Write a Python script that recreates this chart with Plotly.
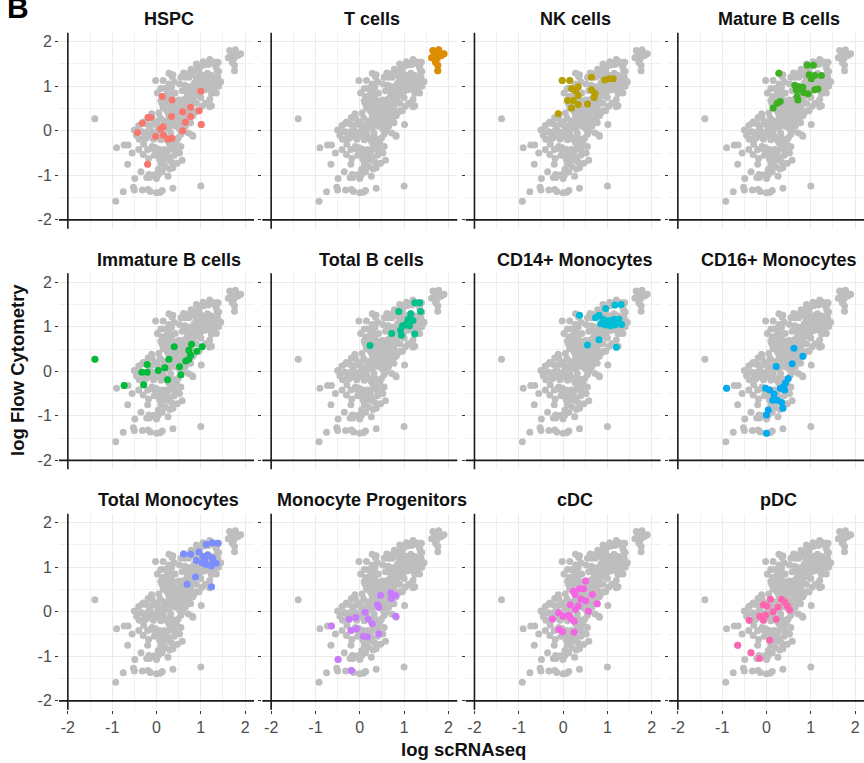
import plotly.graph_objects as go

# ---------------------------------------------------------------------------
# Data: log expression (scRNAseq) vs log abundance (flow cytometry), per cell type
# ---------------------------------------------------------------------------
cell_types = ["HSPC", "T cells", "NK cells", "Mature B cells",
              "Immature B cells", "Total B cells", "CD14+ Monocytes", "CD16+ Monocytes",
              "Total Monocytes", "Monocyte Progenitors", "cDC", "pDC"]

type_colors = ["#F8766D", "#DE8C00", "#B79F00", "#3DB022",
               "#00BA38", "#00C08B", "#00BCD6", "#00AAF0",
               "#7B8DFF", "#C77CFF", "#F564E3", "#FF64B0"]

hspc_x = [0.13, 0.35, 1.00, -0.32, -0.43, -0.19, -0.13, -0.02, 0.09, 0.15, 0.16,
          0.26, 0.35, 0.34, 0.59, 0.59, 0.65, 0.77, 0.77, 0.96, 1.01, -0.20]
hspc_y = [0.77, 0.69, 0.89, 0.17, -0.04, 0.30, 0.30, -0.13, 0.04, 0.09, -0.10,
          -0.19, -0.17, 0.32, 0.43, 0.00, 0.19, 0.53, 0.32, 0.45, 0.14, -0.75]

tcell_x = [1.65, 1.78, 1.90, 1.62, 1.75, 1.84, 1.71, 1.76, 1.76, 1.69, 1.80]
tcell_y = [1.80, 1.82, 1.73, 1.64, 1.63, 1.69, 1.54, 1.47, 1.35, 1.73, 1.73]

nk_x = [-0.02, 0.15, 0.64, 0.94, 1.03, 1.13, 0.19, 0.34, 0.64, 0.72, 0.70,
        0.34, 0.10, 0.23, 0.34, 0.19, 0.55, -0.11, 0.28]
nk_y = [1.13, 1.13, 1.20, 1.14, 1.17, 1.17, 0.95, 0.99, 0.92, 0.84, 0.75,
        0.79, 0.68, 0.68, 0.59, 0.51, 0.60, 0.38, 0.90]

matb_x = [0.28, 0.92, 1.06, 0.96, 1.09, 1.24, 0.64, 0.73, 0.82, 0.67, 0.76,
          0.84, 0.94, 0.69, 0.71, 1.09, 1.16, 0.31, 0.24, 0.15, 1.01]
matb_y = [1.29, 1.47, 1.47, 1.26, 1.24, 1.24, 1.02, 0.99, 0.98, 0.92, 0.92,
          0.86, 0.83, 0.77, 0.69, 0.92, 0.94, 0.66, 0.62, 0.51, 1.17]

immb_x = [-1.39, -0.73, -0.29, -0.33, -0.21, -0.21, 0.04, 0.19, 0.28, 0.25,
          0.40, 0.52, 0.55, 0.66, 0.73, 0.77, 0.73, 0.79, 0.91, 1.03]
immb_y = [0.27, -0.32, -0.30, -0.02, -0.02, 0.15, 0.02, 0.08, 0.27, -0.19,
          0.55, 0.10, -0.08, 0.23, 0.27, 0.36, 0.47, 0.61, 0.45, 0.55]

totb_x = [0.23, 0.88, 1.24, 1.35, 1.15, 1.37, 1.09, 1.20, 0.96, 1.03, 1.12,
          0.92, 0.72, 0.94, 1.24, 1.07]
totb_y = [0.58, 1.34, 1.54, 1.54, 1.29, 1.34, 1.17, 1.14, 1.02, 1.04, 1.02,
          0.92, 0.85, 0.81, 0.84, 1.09]

cd14_x = [0.37, 0.96, 1.17, 1.31, 0.73, 0.81, 0.90, 0.99, 1.07, 1.15, 1.26,
          1.32, 0.85, 0.96, 1.07, 1.17, 0.81, 0.55, 1.20, 1.03]
cd14_y = [1.26, 1.41, 1.49, 1.50, 1.20, 1.26, 1.17, 1.13, 1.14, 1.17, 1.17,
          1.05, 1.07, 1.04, 1.02, 1.04, 0.71, 0.59, 0.54, 1.09]

cd16_x = [0.62, 0.82, 0.22, 0.58, -0.90, 0.49, 0.43, 0.39, 0.41, 0.31, -0.02,
          0.07, 0.17, 0.14, 0.24, 0.34, 0.37, 0.04, 0.00, 0.00]
cd16_y = [0.52, 0.34, 0.11, 0.17, -0.38, -0.16, -0.26, -0.34, -0.42, -0.38, -0.38,
          -0.42, -0.51, -0.65, -0.65, -0.70, -0.83, -0.87, -0.98, -1.39]

totmono_x = [0.61, 0.77, 0.96, 1.12, 1.26, 1.39, 0.90, 1.05, 1.16, 1.27, 1.03,
             1.12, 1.24, 1.35, 1.27, 0.88, 0.69, 1.24, 1.09]
totmono_y = [1.30, 1.29, 1.34, 1.51, 1.55, 1.54, 1.15, 1.24, 1.27, 1.21, 1.10,
             1.06, 1.03, 1.09, 1.14, 0.78, 0.62, 0.56, 1.18]

monoprog_x = [0.47, 0.70, 0.81, 0.71, 0.40, 0.43, 0.12, 0.81, -0.09, -0.24, 0.19,
              0.28, -0.64, -0.20, -0.07, 0.08, 0.17, 0.43, -0.49, -0.19]
monoprog_y = [0.37, 0.43, 0.37, 0.30, 0.16, 0.10, -0.01, -0.10, -0.13, -0.17, -0.16,
              -0.27, -0.32, -0.42, -0.38, -0.55, -0.56, -0.49, -1.07, -1.32]

cdc_x = [0.51, 0.23, 0.27, 0.37, 0.46, 0.66, 0.40, 0.51, 0.16, 0.77, 0.34,
         0.28, 0.57, -0.10, 0.00, 0.13, 0.17, 0.25, -0.24, -0.09, -0.01, 0.25]
cdc_y = [0.69, 0.46, 0.39, 0.52, 0.52, 0.39, 0.29, 0.25, 0.16, 0.18, 0.13,
         0.05, 0.01, -0.02, -0.10, -0.08, -0.15, -0.21, -0.16, -0.40, -0.45, -0.46]

pdc_x = [0.09, -0.07, 0.01, 0.34, 0.41, 0.26, 0.47, 0.52, 0.15, -0.02, -0.15,
         -0.07, -0.39, 0.22, 0.07, -0.65, -0.35, -0.16, -0.11]
pdc_y = [0.28, 0.16, 0.13, 0.28, 0.22, 0.11, 0.13, 0.04, 0.00, -0.07, -0.10,
         -0.19, -0.19, -0.17, -0.64, -0.75, -0.92, -1.05, -0.13]

# populations that are measured but not shown as their own panel
other_x = [-0.92, -0.75, -0.52, -0.50, -0.32, -0.14, 0.13, 0.08, 0.37, 1.00,
           -0.22, -0.17, -0.07, 0.00, 0.04, 0.13, 0.26, 0.30, 0.47, 0.58, 0.20, 0.10,
           -0.30, -0.18, -0.05, 0.05, 0.18, 0.28, 0.40, 0.52, 0.55, 0.45, 0.35, -0.10,
           -0.40, -0.55,
           -0.50, -0.45, -0.40, -0.28, -0.30, -0.15, -0.10, 0.00, 0.05, 0.10, 0.20,
           0.30, 0.32, 0.40, 0.48, 0.55, 0.62, 0.65, 0.72, 0.82, 0.70, 0.80, 0.85,
           0.02, 0.10, 0.12, 0.22, 0.28, 0.35, 0.42, 0.48, 0.52, 0.55, 0.58, 0.62,
           0.66, 0.40, 0.30, 0.65,
           0.78, 0.90, 1.05, 1.20, 1.35, 1.40, 1.38, 1.30, 1.35, 1.40, 1.20, 1.10,
           1.00, 0.90, 1.45]
other_y = [-1.58, -1.37, -1.27, -1.33, -1.33, -1.36, -1.34, -1.38, -1.29, -1.24,
           -1.05, -0.98, -0.99, -1.07, -0.98, -0.92, -1.02, -0.86, -0.73, -0.66, -0.80, -0.75,
           -0.53, -0.62, -0.55, -0.45, -0.42, -0.60, -0.55, -0.50, -0.35, -0.25, -0.40, -0.35,
           -0.42, -0.50,
           0.02, -0.10, 0.12, -0.15, 0.20, 0.05, 0.30, 0.20, 0.40, -0.20, 0.22,
           0.35, -0.05, 0.45, 0.20, 0.45, 0.35, 0.10, -0.05, -0.12, 0.58, 0.72, 0.40,
           0.85, 0.95, 0.62, 0.80, 1.05, 1.22, 0.85, 0.68, 1.05, 1.20, 0.90, 0.70,
           1.28, 1.10, 0.50, 0.50,
           1.38, 1.50, 1.55, 1.60, 1.42, 1.33, 1.20, 0.95, 0.85, 1.00, 0.70, 0.62,
           0.75, 0.62, 1.10]

type_x = [hspc_x, tcell_x, nk_x, matb_x, immb_x, totb_x,
          cd14_x, cd16_x, totmono_x, monoprog_x, cdc_x, pdc_x]
type_y = [hspc_y, tcell_y, nk_y, matb_y, immb_y, totb_y,
          cd14_y, cd16_y, totmono_y, monoprog_y, cdc_y, pdc_y]

axis_ticks = [-2, -1, 0, 1, 2]
x_title = "log scRNAseq"
y_title = "log Flow Cytometry"
panel_tag = "B"

# all points, drawn in grey behind every panel
all_x = sum(type_x, []) + other_x
all_y = sum(type_y, []) + other_y

# ---------------------------------------------------------------------------
# Layout geometry (pixels)
# ---------------------------------------------------------------------------
W, H = 864, 763
col_left = [59.0, 262.3, 465.6, 669.0]
panel_w = 195.0
row_top = [32.8, 273.3, 513.8]
panel_h = 196.0
title_shift = 12.0   # facet titles sit a little right of the panel centre

FONT = "Liberation Sans, Arial, Helvetica, sans-serif"
GRID = "#EBEBEB"
MINOR_GRID = "#F1F1F1"
PT = 7

fig = go.Figure()
layout = dict(
    width=W, height=H,
    margin=dict(l=0, r=0, t=0, b=0),
    paper_bgcolor="white", plot_bgcolor="white",
    showlegend=False,
    font=dict(family=FONT),
)
annotations = []
shapes = []

for i, name in enumerate(cell_types):
    r, c = divmod(i, 4)
    n = i + 1
    xa = "x" if n == 1 else f"x{n}"
    ya = "y" if n == 1 else f"y{n}"
    xkey = "xaxis" if n == 1 else f"xaxis{n}"
    ykey = "yaxis" if n == 1 else f"yaxis{n}"

    x0 = col_left[c] / W
    x1 = min(1.0, (col_left[c] + panel_w) / W)
    y1 = 1 - row_top[r] / H
    y0 = 1 - (row_top[r] + panel_h) / H

    common = dict(
        range=[-2.2, 2.2], tickvals=axis_ticks, ticktext=[str(v) for v in axis_ticks],
        showgrid=True, gridcolor=GRID, gridwidth=1,
        zeroline=False, showline=False, fixedrange=True,
        tickfont=dict(size=16, color="#4D4D4D", family=FONT),
        minor=dict(tickvals=[-1.5, -0.5, 0.5, 1.5], showgrid=True,
                   gridcolor=MINOR_GRID, gridwidth=1, ticks=""),
    )
    layout[xkey] = dict(common, domain=[x0, x1], anchor=ya,
                        showticklabels=(r == 2),
                        ticks="outside" if r == 2 else "",
                        ticklen=3, tickcolor="#333333")
    layout[ykey] = dict(common, domain=[y0, y1], anchor=xa,
                        showticklabels=(c == 0),
                        ticks="outside", ticklen=3, tickcolor="#333333")

    # every measured population in grey
    fig.add_trace(go.Scatter(
        x=all_x, y=all_y, mode="markers", xaxis=xa, yaxis=ya,
        marker=dict(size=PT, color="#BEBEBE", line=dict(width=0)),
        hoverinfo="skip",
    ))
    # highlighted population
    fig.add_trace(go.Scatter(
        x=type_x[i], y=type_y[i], mode="markers", xaxis=xa, yaxis=ya,
        marker=dict(size=PT, color=type_colors[i], line=dict(width=0)),
        name=name,
    ))

    # axis lines at -2
    shapes.append(dict(type="line", xref=xa, yref=f"{ya} domain",
                       x0=-2, x1=-2, y0=0, y1=1,
                       line=dict(color="#1A1A1A", width=1.6), layer="above"))
    shapes.append(dict(type="line", xref=f"{xa} domain", yref=ya,
                       x0=0, x1=1, y0=-2, y1=-2,
                       line=dict(color="#1A1A1A", width=1.6), layer="above"))

    # facet title
    annotations.append(dict(
        text=f"<b>{name}</b>", xref="paper", yref="paper",
        x=(col_left[c] + panel_w / 2 + title_shift) / W, y=1 - (row_top[r] - 13.5) / H,
        xanchor="center", yanchor="middle", showarrow=False,
        font=dict(size=18, color="#111111", family=FONT),
    ))

annotations.append(dict(
    text=f"<b>{x_title}</b>", xref="paper", yref="paper",
    x=463 / W, y=1 - 749 / H, xanchor="center", yanchor="middle",
    showarrow=False, font=dict(size=18.5, color="#111111", family=FONT)))
annotations.append(dict(
    text=f"<b>{y_title}</b>", xref="paper", yref="paper",
    x=18 / W, y=1 - 370 / H, xanchor="center", yanchor="middle", textangle=-90,
    showarrow=False, font=dict(size=18.5, color="#111111", family=FONT)))
annotations.append(dict(
    text=f"<b>{panel_tag}</b>", xref="paper", yref="paper",
    x=5 / W, y=1 - 8 / H, xanchor="left", yanchor="middle",
    showarrow=False, font=dict(size=30, color="#000000", family=FONT)))

layout["annotations"] = annotations
layout["shapes"] = shapes
fig.update_layout(**layout)

fig.write_html("out.html")
